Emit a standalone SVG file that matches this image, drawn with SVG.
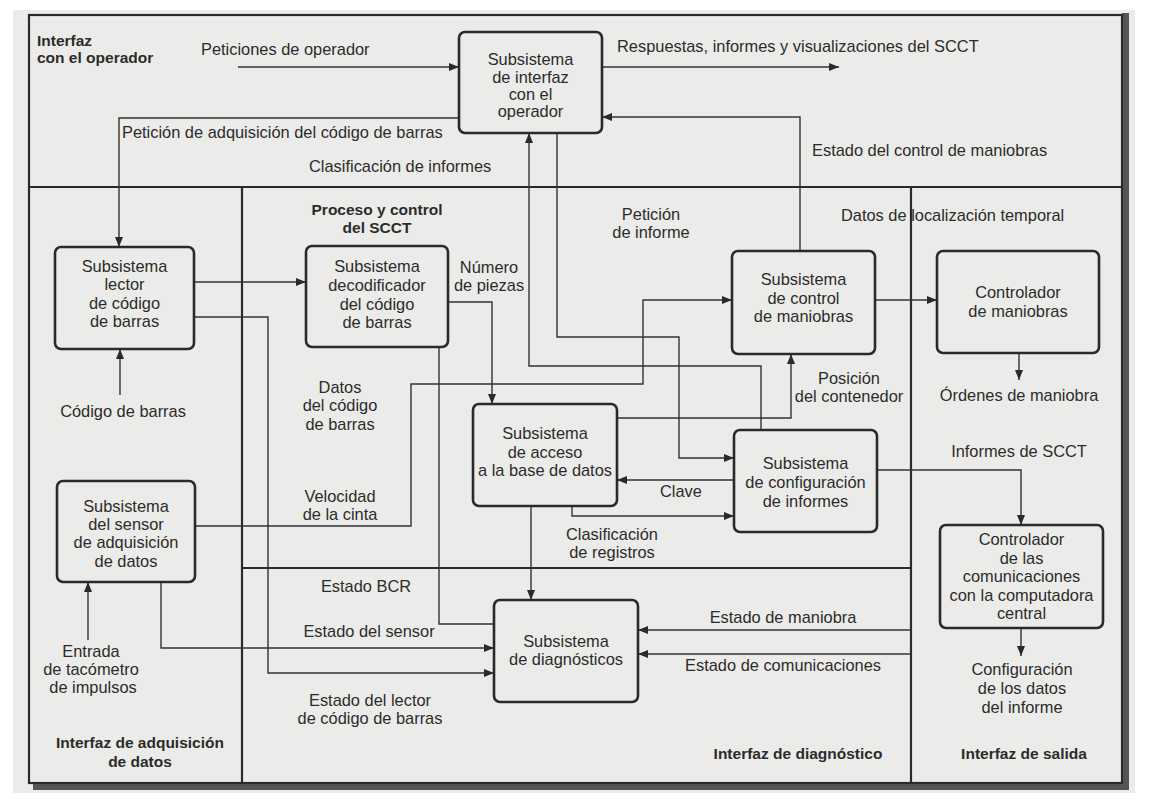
<svg xmlns="http://www.w3.org/2000/svg" width="1154" height="804" viewBox="0 0 1154 804">
<defs>
<style>
.t{font-family:"Liberation Sans",Arial,Helvetica,sans-serif;font-size:16.4px;fill:#2b2b2b}
.m{text-anchor:middle}
.b{font-weight:bold;font-size:15.5px}
.node rect{fill:none;stroke:#2a2a2a;stroke-width:2.6}
.div{stroke:#2a2a2a;stroke-width:2.2;fill:none}
#connectors path{fill:none;stroke:#333;stroke-width:1.4}
</style>
<marker id="ah" markerUnits="userSpaceOnUse" markerWidth="10" markerHeight="8" refX="10" refY="4" orient="auto">
<path d="M0,0 L10,4 L0,8 Z" fill="#2a2a2a"/>
</marker>
</defs>
<rect x="0" y="0" width="1154" height="804" fill="#ffffff"/>
<rect x="13" y="10" width="1122" height="783" fill="#ebebe9"/>
<g id="frame">
<polygon points="1122,13 1129,13 1129,790 33,790 33,783 1122,783" fill="#555"/>
<rect x="29" y="15" width="1093" height="768" class="div"/>
<line x1="29" y1="187" x2="1122" y2="187" class="div"/>
<line x1="242" y1="187" x2="242" y2="783" class="div"/>
<line x1="911" y1="187" x2="911" y2="783" class="div"/>
<line x1="242" y1="568" x2="911" y2="568" class="div"/>
</g>
<g id="connectors">
<path d="M238,67 H459" marker-end="url(#ah)"/>
<path d="M602,67 H839" marker-end="url(#ah)"/>
<path d="M459,118 H119 V247" marker-end="url(#ah)"/>
<path d="M761,430 V366 H529 V133" marker-end="url(#ah)"/>
<path d="M557,133 V337 H679 V458 H734" marker-end="url(#ah)"/>
<path d="M800,251 V117 H602" marker-end="url(#ah)"/>
<path d="M875,300 H937" marker-end="url(#ah)"/>
<path d="M1019,353 V380" marker-end="url(#ah)"/>
<path d="M877,470 H1021 V525" marker-end="url(#ah)"/>
<path d="M1021,628 V656" marker-end="url(#ah)"/>
<path d="M194,282 H306" marker-end="url(#ah)"/>
<path d="M120,395 V349" marker-end="url(#ah)"/>
<path d="M194,317 H268 V673 H494" marker-end="url(#ah)"/>
<path d="M195,526 H411 V384 H643 V300 H732" marker-end="url(#ah)"/>
<path d="M448,302 H492 V404" marker-end="url(#ah)"/>
<path d="M439,347 V624 H494"/>
<path d="M531,506 V600" marker-end="url(#ah)"/>
<path d="M572,506 V516 H734" marker-end="url(#ah)"/>
<path d="M734,480 H617" marker-end="url(#ah)"/>
<path d="M617,418 H791 V354" marker-end="url(#ah)"/>
<path d="M161,582 V648 H494" marker-end="url(#ah)"/>
<path d="M88,640 V582" marker-end="url(#ah)"/>
<path d="M911,630 H638" marker-end="url(#ah)"/>
<path d="M911,654 H638" marker-end="url(#ah)"/>
</g>
<g id="n-interfaz" class="node">
<rect x="459" y="32" width="143" height="101" rx="6"/>
<text class="t m" x="530.5" y="65">Subsistema</text>
<text class="t m" x="530.5" y="83">de interfaz</text>
<text class="t m" x="530.5" y="100">con el</text>
<text class="t m" x="530.5" y="117">operador</text>
</g>
<g id="n-lector" class="node">
<rect x="55" y="247" width="139" height="102" rx="6"/>
<text class="t m" x="124.5" y="271.5">Subsistema</text>
<text class="t m" x="124.5" y="290">lector</text>
<text class="t m" x="124.5" y="308.5">de código</text>
<text class="t m" x="124.5" y="327">de barras</text>
</g>
<g id="n-decodificador" class="node">
<rect x="306" y="246" width="142" height="101" rx="6"/>
<text class="t m" x="377" y="272">Subsistema</text>
<text class="t m" x="377" y="291">decodificador</text>
<text class="t m" x="377" y="309.5">del código</text>
<text class="t m" x="377" y="328">de barras</text>
</g>
<g id="n-acceso" class="node">
<rect x="473" y="404" width="144" height="102" rx="6"/>
<text class="t m" x="545" y="439">Subsistema</text>
<text class="t m" x="545" y="457.5">de acceso</text>
<text class="t m" x="545" y="476">a la base de datos</text>
</g>
<g id="n-sensor" class="node">
<rect x="57" y="481" width="138" height="101" rx="6"/>
<text class="t m" x="126" y="511.5">Subsistema</text>
<text class="t m" x="126" y="530">del sensor</text>
<text class="t m" x="126" y="548">de adquisición</text>
<text class="t m" x="126" y="566.5">de datos</text>
</g>
<g id="n-control" class="node">
<rect x="732" y="251" width="143" height="103" rx="6"/>
<text class="t m" x="803.5" y="285">Subsistema</text>
<text class="t m" x="803.5" y="303.5">de control</text>
<text class="t m" x="803.5" y="322">de maniobras</text>
</g>
<g id="n-controlador" class="node">
<rect x="937" y="251" width="162" height="102" rx="6"/>
<text class="t m" x="1018" y="298">Controlador</text>
<text class="t m" x="1018" y="316.5">de maniobras</text>
</g>
<g id="n-configuracion" class="node">
<rect x="734" y="430" width="143" height="102" rx="6"/>
<text class="t m" x="805.5" y="469">Subsistema</text>
<text class="t m" x="805.5" y="488">de configuración</text>
<text class="t m" x="805.5" y="506.5">de informes</text>
</g>
<g id="n-comunicaciones" class="node">
<rect x="940" y="525" width="163" height="103" rx="6"/>
<text class="t m" x="1021.5" y="545">Controlador</text>
<text class="t m" x="1021.5" y="563.5">de las</text>
<text class="t m" x="1021.5" y="582">comunicaciones</text>
<text class="t m" x="1021.5" y="600.5">con la computadora</text>
<text class="t m" x="1021.5" y="619">central</text>
</g>
<g id="n-diagnosticos" class="node">
<rect x="494" y="600" width="144" height="102" rx="6"/>
<text class="t m" x="566" y="646.5">Subsistema</text>
<text class="t m" x="566" y="664.5">de diagnósticos</text>
</g>
<g id="labels">
<text class="t b" x="37" y="46">Interfaz</text>
<text class="t b" x="37" y="63">con el operador</text>
<text class="t b m" x="377" y="215">Proceso y control</text>
<text class="t b m" x="377" y="233">del SCCT</text>
<text class="t b m" x="140" y="748">Interfaz de adquisición</text>
<text class="t b m" x="140" y="767">de datos</text>
<text class="t b m" x="798" y="759">Interfaz de diagnóstico</text>
<text class="t b m" x="1024" y="759">Interfaz de salida</text>
<text class="t" x="201" y="55">Peticiones de operador</text>
<text class="t" x="617" y="52">Respuestas, informes y visualizaciones del SCCT</text>
<text class="t" x="122" y="138">Petición de adquisición del código de barras</text>
<text class="t" x="309" y="172">Clasificación de informes</text>
<text class="t" x="812" y="156">Estado del control de maniobras</text>
<text class="t m" x="651" y="220">Petición</text>
<text class="t m" x="651" y="238">de informe</text>
<text class="t" x="841" y="221">Datos de localización temporal</text>
<text class="t m" x="489" y="273">Número</text>
<text class="t m" x="489" y="291">de piezas</text>
<text class="t m" x="340" y="393">Datos</text>
<text class="t m" x="340" y="411">del código</text>
<text class="t m" x="340" y="429.5">de barras</text>
<text class="t m" x="340" y="501.5">Velocidad</text>
<text class="t m" x="340" y="519.5">de la cinta</text>
<text class="t m" x="123" y="417">Código de barras</text>
<text class="t m" x="849" y="384">Posición</text>
<text class="t m" x="849" y="402">del contenedor</text>
<text class="t m" x="1019" y="401">Órdenes de maniobra</text>
<text class="t m" x="1019" y="457">Informes de SCCT</text>
<text class="t" x="660" y="497">Clave</text>
<text class="t m" x="612" y="540">Clasificación</text>
<text class="t m" x="612" y="557.5">de registros</text>
<text class="t m" x="366" y="592">Estado BCR</text>
<text class="t m" x="369" y="637">Estado del sensor</text>
<text class="t m" x="370" y="706">Estado del lector</text>
<text class="t m" x="370" y="724">de código de barras</text>
<text class="t m" x="91" y="657">Entrada</text>
<text class="t m" x="91" y="675">de tacómetro</text>
<text class="t m" x="93" y="693">de impulsos</text>
<text class="t m" x="783" y="623">Estado de maniobra</text>
<text class="t m" x="783" y="671">Estado de comunicaciones</text>
<text class="t m" x="1022" y="675">Configuración</text>
<text class="t m" x="1022" y="694">de los datos</text>
<text class="t m" x="1022" y="712.5">del informe</text>
</g>
</svg>
